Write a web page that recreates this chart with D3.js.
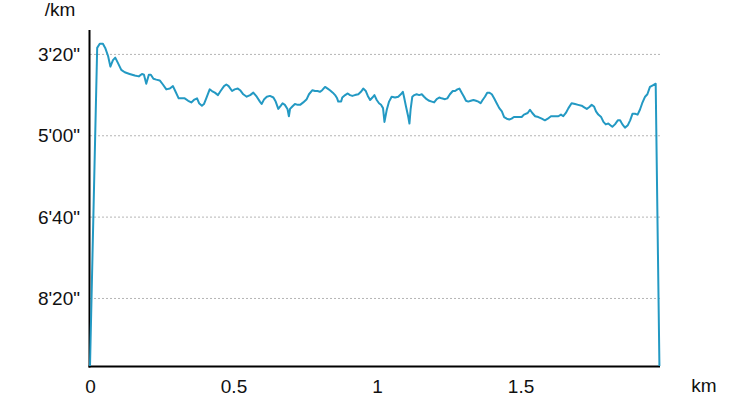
<!DOCTYPE html>
<html>
<head>
<meta charset="utf-8">
<script src="https://cdn.jsdelivr.net/npm/d3@7"></script>
<style>
  html, body { margin: 0; padding: 0; background: #fff; }
  svg { display: block; }
  text { font-family: "Liberation Sans", Arial, Helvetica, sans-serif; fill: #111; }
</style>
</head>
<body>
<svg id="chart" width="750" height="400"></svg>
<script>
// Distance along the course (km)
const distKm = [
  0, 0.025, 0.034, 0.045, 0.053, 0.063, 0.071, 0.080, 0.088, 0.098,
  0.109, 0.121, 0.138, 0.156, 0.170, 0.181, 0.188, 0.196, 0.205, 0.212,
  0.221, 0.231, 0.243, 0.254, 0.266, 0.278, 0.289, 0.297, 0.309, 0.318,
  0.330, 0.342, 0.353, 0.362, 0.373, 0.380, 0.390, 0.397, 0.405, 0.417,
  0.425, 0.435, 0.446, 0.455, 0.467, 0.475, 0.483, 0.495, 0.504, 0.515,
  0.523, 0.534, 0.546, 0.558, 0.569, 0.581, 0.592, 0.598, 0.607, 0.616,
  0.627, 0.639, 0.647, 0.656, 0.665, 0.671, 0.679, 0.688, 0.693, 0.697,
  0.705, 0.714, 0.724, 0.732, 0.743, 0.755, 0.763, 0.775, 0.784, 0.793,
  0.801, 0.809, 0.819, 0.828, 0.836, 0.846, 0.854, 0.861, 0.865, 0.875,
  0.879, 0.889, 0.898, 0.906, 0.914, 0.923, 0.935, 0.944, 0.952, 0.961,
  0.968, 0.976, 0.984, 0.991, 0.999, 1.007, 1.014, 1.021, 1.026, 1.034,
  1.042, 1.051, 1.063, 1.074, 1.083, 1.090, 1.094, 1.101, 1.109, 1.113,
  1.117, 1.123, 1.130, 1.138, 1.147, 1.156, 1.164, 1.173, 1.182, 1.191,
  1.199, 1.208, 1.217, 1.225, 1.237, 1.245, 1.254, 1.264, 1.272, 1.280,
  1.287, 1.295, 1.303, 1.310, 1.318, 1.327, 1.336, 1.345, 1.353, 1.361,
  1.368, 1.376, 1.384, 1.391, 1.400, 1.408, 1.417, 1.426, 1.435, 1.443,
  1.452, 1.461, 1.469, 1.477, 1.487, 1.496, 1.504, 1.512, 1.525, 1.533,
  1.541, 1.551, 1.562, 1.574, 1.585, 1.595, 1.606, 1.620, 1.632, 1.641,
  1.649, 1.658, 1.667, 1.678, 1.690, 1.701, 1.713, 1.722, 1.731, 1.739,
  1.748, 1.756, 1.763, 1.771, 1.781, 1.789, 1.797, 1.806, 1.813, 1.820,
  1.829, 1.839, 1.847, 1.855, 1.864, 1.874, 1.882, 1.890, 1.899, 1.908,
  1.916, 1.924, 1.934, 1.942, 1.951, 1.961, 1.971, 1.984
];
// Pace at each point (seconds per km)
const paceSec = [
  583, 192, 187, 187, 192, 202, 215, 207, 204, 211,
  219, 222, 224, 226, 227, 224, 225, 236, 225, 225,
  230, 231, 232, 237, 243, 242, 239, 245, 254, 254,
  254, 257, 259, 256, 254, 260, 263, 261, 254, 243,
  245, 247, 250, 245, 239, 237, 239, 245, 243, 242,
  244, 249, 252, 250, 247, 252, 258, 261, 255, 252,
  251, 253, 258, 267, 263, 260, 262, 267, 276, 267,
  264, 261, 262, 262, 259, 255, 249, 244, 245, 245,
  246, 244, 240, 242, 244, 247, 250, 254, 258, 258,
  253, 250, 248, 250, 251, 250, 249, 246, 242, 245,
  251, 256, 253, 250, 256, 260, 262, 266, 283, 268,
  258, 252, 253, 252, 249, 246, 252, 264, 277, 285,
  268, 252, 250, 249, 250, 249, 252, 255, 257, 258,
  259, 255, 253, 254, 255, 254, 249, 245, 245, 243,
  242, 247, 252, 257, 258, 257, 256, 257, 258, 260,
  256, 252, 247, 247, 249, 254, 260, 266, 270, 277,
  279, 280, 279, 277, 277, 277, 277, 274, 272, 268,
  272, 276, 277, 279, 281, 279, 276, 276, 276, 274,
  276, 272, 266, 260, 261, 262, 263, 265, 267, 265,
  262, 264, 270, 274, 277, 283, 286, 285, 287, 289,
  286, 281, 281, 286, 290, 287, 281, 273, 273, 274,
  268, 260, 252, 249, 240, 238, 236, 583
];
// Y tick values (seconds per km)
const paceTicks = [200, 300, 400, 500];
// X tick values (km)
const distTicks = [0, 0.5, 1, 1.5];
const xDomain = [0, 1.986];
const yDomain = [170, 583];
const yUnit = "/km";
const xUnit = "km";

const svg = d3.select("#chart");
const plotLeft = 90, plotRight = 660, plotTop = 30, plotBottom = 366;

const x = d3.scaleLinear().domain(xDomain).range([plotLeft, plotRight]);
const y = d3.scaleLinear().domain(yDomain).range([plotTop, plotBottom]).clamp(true);

const fmtPace = s => {
  const m = Math.floor(s / 60), sec = Math.round(s % 60);
  return m + "'" + String(sec).padStart(2, "0") + '"';
};

// Grid lines
svg.append("g")
  .selectAll("line")
  .data(paceTicks)
  .join("line")
  .attr("x1", plotLeft).attr("x2", plotRight)
  .attr("y1", d => y(d)).attr("y2", d => y(d))
  .attr("stroke", "#b5b5b5")
  .attr("stroke-width", 1)
  .attr("stroke-dasharray", "2,2");

// Y axis (labels only, no ticks)
const yAxis = d3.axisLeft(y).tickValues(paceTicks).tickFormat(fmtPace).tickSize(0).tickPadding(10);
const gy = svg.append("g").attr("transform", `translate(${plotLeft},0)`).call(yAxis);
gy.select(".domain").remove();
gy.selectAll("text").attr("font-size", 19).attr("font-family", '"Liberation Sans", Arial, sans-serif').attr("fill", "#111");

// X axis
const xAxis = d3.axisBottom(x).tickValues(distTicks).tickFormat(d3.format("")).tickSize(0).tickPadding(14);
const gx = svg.append("g").attr("transform", `translate(0,${plotBottom})`).call(xAxis);
gx.select(".domain").remove();
gx.selectAll("text").attr("font-size", 19).attr("font-family", '"Liberation Sans", Arial, sans-serif').attr("fill", "#111");

// Axis lines
svg.append("line").attr("x1", plotLeft - 0.5).attr("x2", plotLeft - 0.5).attr("y1", plotTop).attr("y2", plotBottom + 1.5)
  .attr("stroke", "#000").attr("stroke-width", 2);
svg.append("line").attr("x1", plotLeft - 1.5).attr("x2", plotRight).attr("y1", plotBottom + 0.5).attr("y2", plotBottom + 0.5)
  .attr("stroke", "#000").attr("stroke-width", 2);

// Line
const data = distKm.map((d, i) => [d, paceSec[i]]);
svg.append("path")
  .datum(data)
  .attr("fill", "none")
  .attr("stroke", "#2399c3")
  .attr("stroke-width", 2)
  .attr("stroke-linejoin", "round")
  .attr("d", d3.line().x(d => x(d[0])).y(d => y(d[1])));

// Unit labels
svg.append("text").attr("x", 60).attr("y", 16).attr("text-anchor", "middle")
  .attr("font-size", 19).text(yUnit);
svg.append("text").attr("x", 704).attr("y", 392).attr("text-anchor", "middle")
  .attr("font-size", 19).text(xUnit);
</script>
</body>
</html>
